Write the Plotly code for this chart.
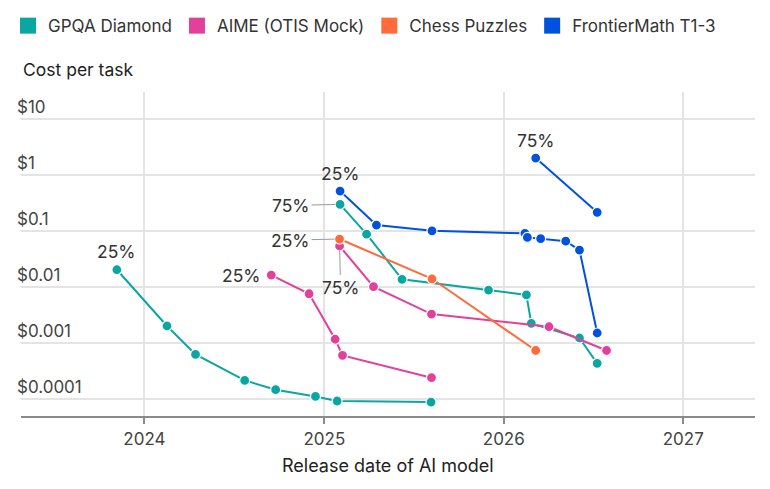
import math
import plotly.graph_objects as go

# GPQA Diamond
gpqa25_dates = ["2023-11-06", "2024-02-16", "2024-04-14", "2024-07-23", "2024-09-24",
                "2024-12-14", "2025-01-27", "2025-08-06"]
gpqa25_cost = [0.0203, 0.0020, 0.00062, 0.000213, 0.000145, 0.00011, 0.000091, 0.000087]
gpqa75_dates = ["2025-02-02", "2025-03-28", "2025-06-08", "2025-12-01", "2026-02-16",
                "2026-02-26", "2026-06-04", "2026-07-10"]
gpqa75_cost = [0.30, 0.088, 0.0137, 0.0088, 0.0072, 0.00223, 0.00122, 0.00043]

# AIME (OTIS Mock)
aime25_dates = ["2024-09-15", "2024-12-01", "2025-01-23", "2025-02-07", "2025-08-07"]
aime25_cost = [0.0163, 0.00755, 0.00116, 0.000597, 0.000238]
aime75_dates = ["2025-02-01", "2025-04-11", "2025-08-07", "2026-04-03", "2026-07-29"]
aime75_cost = [0.054, 0.0101, 0.00327, 0.00194, 0.00073]

# Chess Puzzles
chess25_dates = ["2025-02-01", "2025-08-08", "2026-03-07"]
chess25_cost = [0.072, 0.014, 0.00073]

# FrontierMath T1-3
fm25_dates = ["2025-02-02", "2025-04-17", "2025-08-08", "2026-02-13", "2026-02-18",
              "2026-03-17", "2026-05-07", "2026-06-04", "2026-07-10"]
fm25_cost = [0.52, 0.128, 0.101, 0.091, 0.077, 0.073, 0.066, 0.0457, 0.0015]
fm75_dates = ["2026-03-07", "2026-07-10"]
fm75_cost = [2.02, 0.216]

benchmarks = ["GPQA Diamond", "AIME (OTIS Mock)", "Chess Puzzles", "FrontierMath T1-3"]
colors = ["#0AA6A2", "#E2409A", "#FF6B3A", "#0052DE"]

year_ticks = ["2024-01-01", "2025-01-01", "2026-01-01", "2027-01-01"]
year_labels = ["2024", "2025", "2026", "2027"]
cost_ticks = [10, 1, 0.1, 0.01, 0.001, 0.0001]
cost_labels = ["$10", "$1", "$0.1", "$0.01", "$0.001", "$0.0001"]

series = [
    (gpqa25_dates, gpqa25_cost, 0),
    (gpqa75_dates, gpqa75_cost, 0),
    (aime25_dates, aime25_cost, 1),
    (aime75_dates, aime75_cost, 1),
    (chess25_dates, chess25_cost, 2),
    (fm25_dates, fm25_cost, 3),
    (fm75_dates, fm75_cost, 3),
]

fig = go.Figure()
for dates, cost, k in series:
    fig.add_trace(go.Scatter(
        x=dates, y=cost, mode="lines+markers", showlegend=False,
        line=dict(color=colors[k], width=2),
        marker=dict(size=10, color=colors[k], line=dict(color="white", width=1.2)),
        hoverinfo="skip"))

# legend entries drawn as squares
for name, c in zip(benchmarks, colors):
    fig.add_trace(go.Scatter(x=[None], y=[None], mode="markers", name=name,
                             marker=dict(symbol="square", size=16, color=c)))

lbl = dict(size=17.5, color="#333333")
plain = [
    (gpqa25_dates[0], gpqa25_cost[0], "25%", dict(yanchor="bottom", yshift=6)),
    (aime25_dates[0], aime25_cost[0], "25%", dict(xanchor="right", xshift=-8)),
    (fm25_dates[0], fm25_cost[0], "25%", dict(yanchor="bottom", yshift=5)),
    (fm75_dates[0], fm75_cost[0], "75%", dict(yanchor="bottom", yshift=5)),
]
for d, c, txt, pos in plain:
    fig.add_annotation(x=d, y=math.log10(c), xref="x", yref="y", text=txt,
                       showarrow=False, font=lbl, **pos)

for d, c, ax, ay, txt in [
    (gpqa75_dates[0], gpqa75_cost[0], -49, 1, "75%"),
    (chess25_dates[0], chess25_cost[0], -49, 1, "25%"),
    (aime75_dates[0], aime75_cost[0], 1, 41, "75%"),
]:
    fig.add_annotation(x=d, y=math.log10(c), xref="x", yref="y", text=txt, font=lbl,
                       showarrow=True, arrowhead=0, arrowwidth=1, arrowcolor="#9a9a9a",
                       ax=ax, ay=ay, standoff=5)

fig.add_annotation(text="Cost per task", xref="paper", yref="paper", x=0, y=1.068,
                   xanchor="left", yanchor="middle", showarrow=False,
                   font=dict(size=17.5, color="#222222"))
fig.add_annotation(text="Release date of AI model", xref="paper", yref="paper", x=0.5,
                   y=-0.154, xanchor="center", yanchor="middle", showarrow=False,
                   font=dict(size=18, color="#222222"))

# page body adds 8px, so margins are offset by that amount
fig.update_layout(
    width=770, height=489,
    margin=dict(l=9, r=23, t=84, b=81),
    paper_bgcolor="white", plot_bgcolor="white",
    font=dict(family="Inter, Roboto, sans-serif", color="#444444", size=17),
    legend=dict(orientation="h", xref="container", yref="container",
                x=0.0, y=0.963, xanchor="left", yanchor="middle",
                font=dict(size=17, color="#333333"), itemclick=False),
    xaxis=dict(type="date", range=["2023-04-25", "2027-05-27"],
               tickvals=year_ticks, ticktext=year_labels,
               showgrid=True, gridcolor="#e4e4e4", gridwidth=1.5,
               showline=True, linecolor="#8a8a8a", linewidth=1.5,
               ticks="outside", ticklen=6, tickcolor="#8a8a8a", tickwidth=1.5,
               ticklabelstandoff=1, zeroline=False),
    yaxis=dict(type="log", range=[-4.309, 1.488],
               tickvals=cost_ticks, ticktext=cost_labels,
               ticklabelposition="inside top", ticklabelstandoff=-7,
               showgrid=True, gridcolor="#e4e4e4", gridwidth=1.5,
               showline=False, zeroline=False, ticks=""),
)

fig.write_html("out.html")
